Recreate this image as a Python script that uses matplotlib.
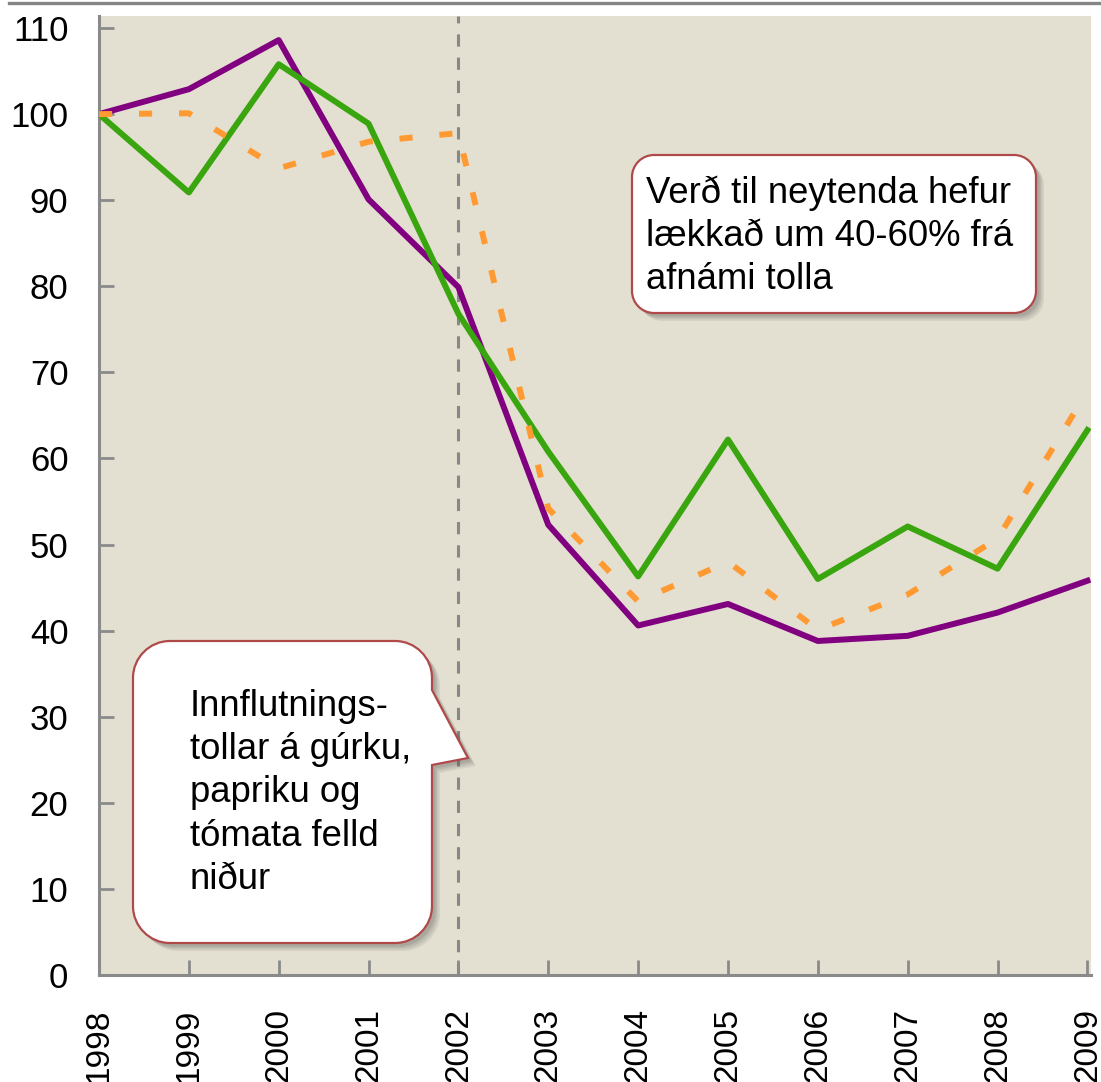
import matplotlib
matplotlib.use('Agg')
import matplotlib.pyplot as plt
from matplotlib.path import Path
from matplotlib.patches import PathPatch
from matplotlib.lines import Line2D
import matplotlib.transforms as mtransforms

plt.rcParams['font.family'] = ['Liberation Sans', 'DejaVu Sans']

# Price index, 1998 = 100
years = [1998, 1999, 2000, 2001, 2002, 2003, 2004, 2005, 2006, 2007, 2008, 2009]
purple_vals = [100, 102.9, 108.6, 90.1, 79.9, 52.3, 40.6, 43.1, 38.8, 39.4, 42.1, 45.8]
green_vals = [100, 90.9, 105.8, 98.9, 76.8, 60.8, 46.3, 62.2, 46.0, 52.1, 47.2, 63.3]
orange_vals = [100, 100.1, 93.7, 96.8, 97.8, 54.2, 43.4, 48.0, 40.1, 44.2, 50.7, 67.8]
y_ticks = list(range(0, 111, 10))
tariff_year = 2002

note_right = 'Verð til neytenda hefur\nlækkað um 40-60% frá\nafnámi tolla'
note_left = 'Innflutnings-\ntollar á gúrku,\npapriku og\ntómata felld\nniður'

COL_BG = '#e4e0d1'
COL_PURPLE = '#800080'
COL_GREEN = '#3aa60f'
COL_ORANGE = '#ff9a32'
COL_AXIS = '#8a8a8a'
COL_BORDER = '#b04a4a'

W, H = 1101, 1082
fig = plt.figure(figsize=(W / 100, H / 100), dpi=100)
ax = fig.add_axes([99 / W, 1 - 975 / H, (1091 - 99) / W, (975 - 16) / H])
ax.set_facecolor(COL_BG)

ax.axvline(tariff_year, color='#888888', lw=2.2, dashes=(4, 3.6), zorder=1)
ax.plot(years, purple_vals, color=COL_PURPLE, lw=4.3, zorder=3)
ax.plot(years, green_vals, color=COL_GREEN, lw=4.3, zorder=4)
ax.plot(years, orange_vals, color=COL_ORANGE, lw=4.3, dashes=(2.2, 4.5), zorder=5)

ax.set_xlim(1998, 2009.04)
ax.set_ylim(0, 111.4)
ax.set_yticks(y_ticks)
ax.set_xticks(years)
ax.set_xticklabels([str(y) for y in years], rotation=90)
ax.tick_params(axis='both', direction='in', length=11, width=2, color=COL_AXIS)
ax.tick_params(axis='y', pad=22, labelsize=25)
ax.tick_params(axis='x', pad=24, labelsize=24)
for side in ['top', 'right']:
    ax.spines[side].set_visible(False)
for side in ['left', 'bottom']:
    ax.spines[side].set_color(COL_AXIS)
    ax.spines[side].set_linewidth(2.2)

# grey rule along the top of the slide
fig.add_artist(Line2D([9 / W, 1], [1 - 3 / H, 1 - 3 / H], color='#858585', lw=2.4,
                      transform=fig.transFigure))

# callouts drawn in pixel units (y down)
px = mtransforms.Affine2D().scale(1 / W, -1 / H).translate(0, 1) + fig.transFigure


def callout_path(x0, y0, x1, y1, r, spike=None):
    k = 0.5523 * r
    verts = [(x0 + r, y0), (x1 - r, y0),
             (x1 - r + k, y0), (x1, y0 + r - k), (x1, y0 + r)]
    codes = [Path.MOVETO, Path.LINETO, Path.CURVE4, Path.CURVE4, Path.CURVE4]
    if spike is not None:
        s_top, tip_x, tip_y, s_bot = spike
        verts += [(x1, s_top), (tip_x, tip_y), (x1, s_bot)]
        codes += [Path.LINETO] * 3
    verts += [(x1, y1 - r),
              (x1, y1 - r + k), (x1 - r + k, y1), (x1 - r, y1),
              (x0 + r, y1),
              (x0 + r - k, y1), (x0, y1 - r + k), (x0, y1 - r),
              (x0, y0 + r),
              (x0, y0 + r - k), (x0 + r - k, y0), (x0 + r, y0)]
    codes += [Path.LINETO,
              Path.CURVE4, Path.CURVE4, Path.CURVE4,
              Path.LINETO,
              Path.CURVE4, Path.CURVE4, Path.CURVE4,
              Path.LINETO,
              Path.CURVE4, Path.CURVE4, Path.CURVE4]
    return Path(verts, codes)


def draw_callout(x0, y0, x1, y1, r, spike=None):
    for i, a in enumerate([0.10, 0.10, 0.12, 0.14]):
        d = 8 - 1.5 * i
        sh = callout_path(x0 + d, y0 + d, x1 + d, y1 + d, r,
                          None if spike is None else (spike[0] + d, spike[1] + d, spike[2] + d, spike[3] + d))
        fig.add_artist(PathPatch(sh, transform=px, facecolor='#555555', edgecolor='none',
                                 alpha=a, zorder=8))
    fig.add_artist(PathPatch(callout_path(x0, y0, x1, y1, r, spike), transform=px,
                             facecolor='white', edgecolor=COL_BORDER, lw=1.6, zorder=9))


draw_callout(632, 155, 1036, 313, 22)
fig.text(646 / W, 1 - 236 / H, note_right, fontsize=26.3, va='center', ha='left',
         linespacing=1.3, zorder=10)

draw_callout(133, 641, 432, 943, 37, spike=(690, 468, 758, 765))
fig.text(190 / W, 1 - 793 / H, note_left, fontsize=26.3, va='center', ha='left',
         linespacing=1.3, zorder=10)

fig.savefig('out.png', dpi=100)
